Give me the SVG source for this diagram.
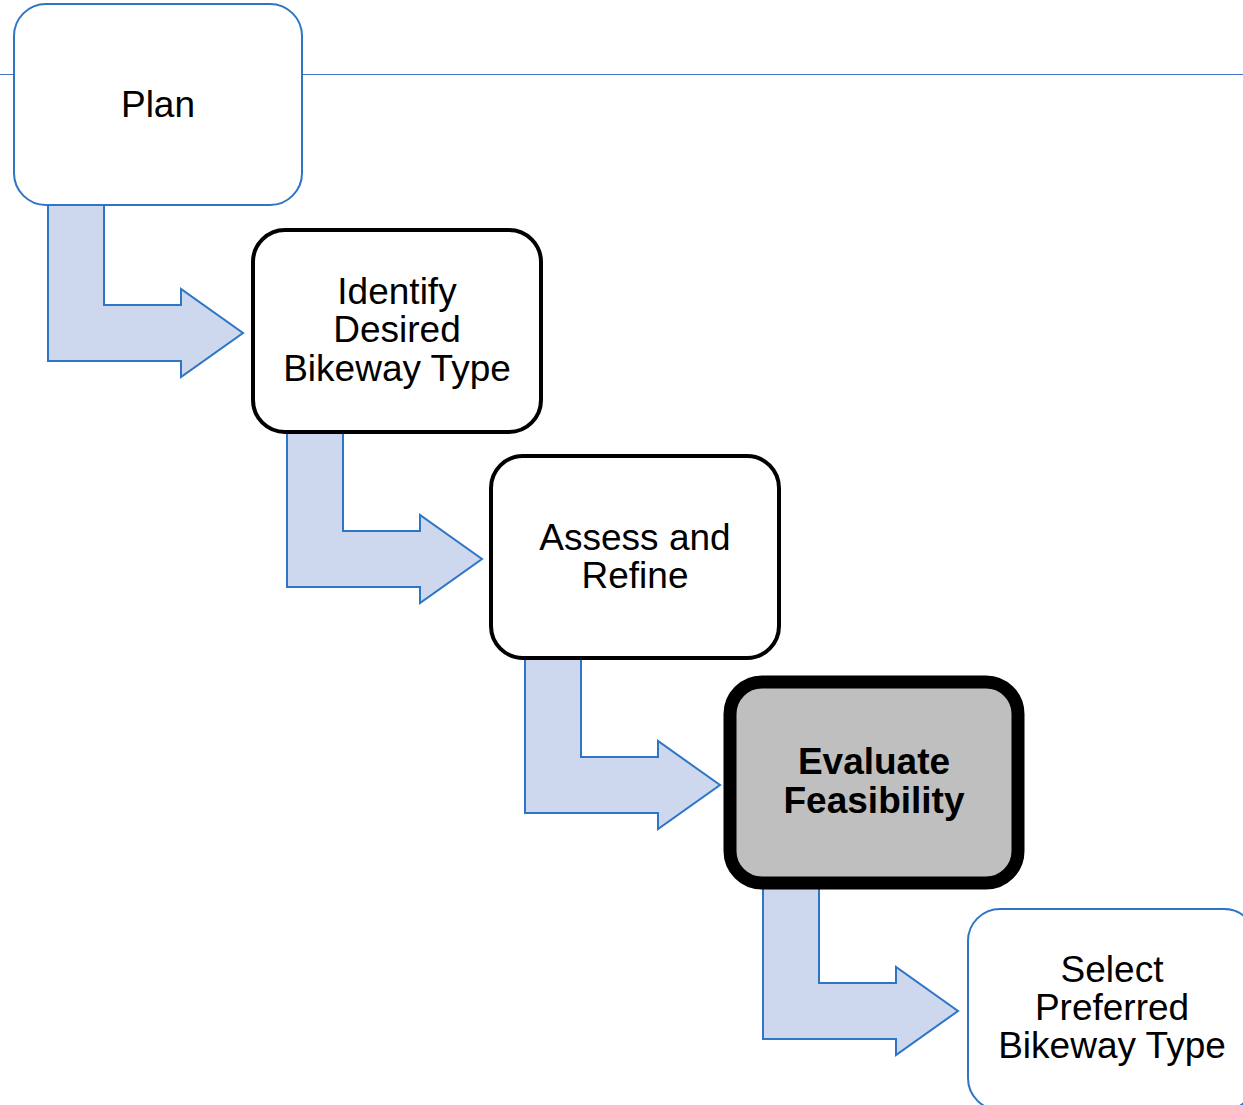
<svg xmlns="http://www.w3.org/2000/svg" xmlns:xlink="http://www.w3.org/1999/xlink" width="1243" height="1105" viewBox="0 0 1243 1105">
<style>
.blue{fill:#fff;stroke:#2e75c6;stroke-width:2}
.black{fill:#fff;stroke:#000;stroke-width:4}
.hl{fill:#bfbfbf;stroke:#000;stroke-width:13}
.arr{fill:#cdd8ee;stroke:#2e75c6;stroke-width:2;stroke-linejoin:miter}
text{font-family:"Liberation Sans",Arial,sans-serif;font-size:37px;fill:#000;text-anchor:middle}
.b{font-weight:bold}
</style>
<defs>
<path id="arrow" d="M48,205 L104,205 L104,305 L181,305 L181,289 L243,333 L181,377 L181,361 L48,361 Z"/>
</defs>
<rect width="1243" height="1105" fill="#fff"/>
<line x1="0" y1="74.5" x2="1243" y2="74.5" stroke="#4472c4" stroke-width="1.2"/>
<g id="connectors">
<use xlink:href="#arrow" class="arr"/>
<use xlink:href="#arrow" class="arr" transform="translate(239,226)"/>
<use xlink:href="#arrow" class="arr" transform="translate(477,452)"/>
<use xlink:href="#arrow" class="arr" transform="translate(715,678)"/>
</g>
<g id="plan">
<rect class="blue" x="14" y="4" width="288" height="201" rx="32"/>
<text x="158" y="117">Plan</text>
</g>
<g id="identify">
<rect class="black" x="253" y="230" width="288" height="202" rx="32"/>
<text x="397" y="304">Identify</text>
<text x="397" y="342">Desired</text>
<text x="397" y="381">Bikeway Type</text>
</g>
<g id="assess">
<rect class="black" x="491" y="456" width="288" height="202" rx="32"/>
<text x="635" y="550">Assess and</text>
<text x="635" y="588">Refine</text>
</g>
<g id="evaluate">
<rect class="hl" x="730" y="682" width="288" height="201" rx="32"/>
<text class="b" x="874" y="774">Evaluate</text>
<text class="b" x="874" y="813">Feasibility</text>
</g>
<g id="select">
<rect class="blue" x="968" y="909" width="288" height="201" rx="32"/>
<text x="1112" y="982">Select</text>
<text x="1112" y="1020">Preferred</text>
<text x="1112" y="1058">Bikeway Type</text>
</g>
</svg>
